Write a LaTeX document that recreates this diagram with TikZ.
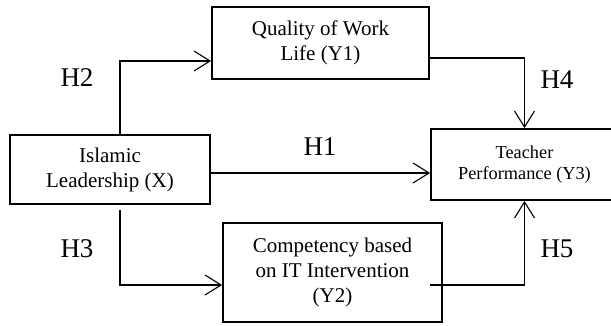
\documentclass[tikz,border=0pt]{standalone}
\usepackage{fontspec}
\setmainfont{Liberation Serif}
\usetikzlibrary{positioning, arrows.meta}

\begin{document}
\begin{tikzpicture}[x=1pt, y=1pt, >={Straight Barb[length=16pt,width=20pt]},
  box/.style={draw, line width=2.4pt, align=center, inner sep=0pt,
    font=\fontsize{21}{25}\selectfont},
  arr/.style={->, line width=1.1pt},
  hyp/.style={inner sep=0pt, font=\fontsize{27}{30}\selectfont}]

\useasboundingbox (0,0) rectangle (611,-326);
\clip (0,0) rectangle (611,-326);

% Nodes
\node[box, minimum width=200.5pt, minimum height=68.5pt] (X) at (110,-169.5) {Islamic\\Leadership (X)};
\node[box, minimum width=216.5pt, minimum height=71.5pt] (Y1) at (320.5,-43) {Quality of Work\\Life (Y1)};
\node[box, minimum width=218.5pt, minimum height=98.5pt] (Y2) at (332.5,-272.5) {Competency based\\on IT Intervention\\(Y2)};
\node[box, minimum width=186.5pt, minimum height=70.5pt,
  font=\fontsize{18.3}{21.7}\selectfont] (Y3) at (524.5,-164.5) {Teacher\\Performance (Y3)};

% Labels
\node[hyp] (H1) at (320,-147) {H1};
\node[hyp] (H2) at (77,-78) {H2};
\node[hyp] (H3) at (77,-248.5) {H3};
\node[hyp] (H4) at (557,-79.5) {H4};
\node[hyp] (H5) at (557,-249) {H5};

% Arrows
\draw[arr] ([xshift=10pt]X.north) |- ([yshift=-18pt]Y1.west);
\draw[arr] ([xshift=10pt, yshift=-5pt]X.south) |- ([yshift=-12.5pt]Y2.west);
\draw[arr] ([yshift=-3.5pt]X.east) -- ([yshift=-3.5pt]X.east -| Y3.west);
\draw[arr] ([yshift=-15pt]Y1.east) -| (Y3.north);
\draw[arr] ([xshift=-13pt, yshift=-12.5pt]Y2.east) -| (Y3.south);

\end{tikzpicture}
\end{document}
